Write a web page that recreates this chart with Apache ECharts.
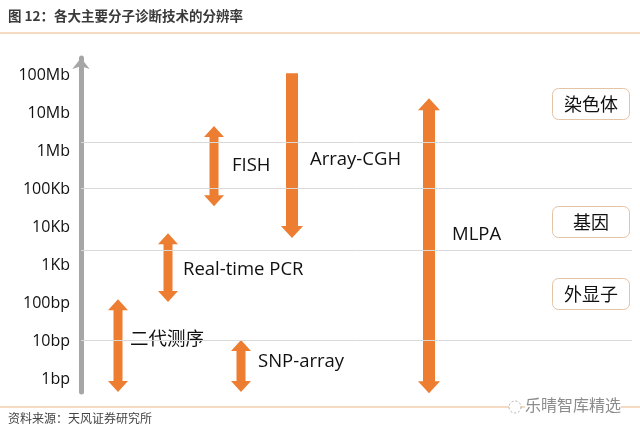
<!DOCTYPE html>
<html>
<head>
<meta charset="utf-8">
<script src="https://cdn.jsdelivr.net/npm/echarts@6/dist/echarts.min.js"></script>
<style>
  html, body { margin: 0; padding: 0; background: #fff; }
  #chart { width: 640px; height: 433px; }
</style>
</head>
<body>
<div id="chart"></div>
<script>
// 分辨率刻度（对数级，0 = 1bp）
const scaleLabels = ['1bp', '10bp', '100bp', '1Kb', '10Kb', '100Kb', '1Mb', '10Mb', '100Mb']
const scaleValues = [0, 1, 2, 3, 4, 5, 6, 7, 8]

// 各技术
const techNames = ['二代测序', 'Real-time PCR', 'FISH', 'SNP-array', 'Array-CGH', 'MLPA']
const techX     = [37, 87, 133, 160, 211, 348]
const techHigh  = [2.1, 3.84, 6.66, 1.03, 8.05, 7.39]
const techLow   = [-0.34, 2.03, 4.55, -0.34, 3.71, -0.37]
const techBoth  = [true, true, true, true, false, true]   // 双向箭头
const labelX    = [49, 102, 151, 177, 229, 371]
const labelY    = [1.03, 2.87, 5.61, 0.45, 5.76, 3.79]

// 背景分隔线
const dividerY = [1.03, 3.39, 5.03, 6.24]

// 右侧层级
const levelNames = ['染色体', '基因', '外显子']

const ORANGE = '#ed7d31'
const bigArrow = [false, false, false, false, true, true]

const chart = echarts.init(document.getElementById('chart'))

const arrowData = techNames.map((n, i) => [techX[i], techHigh[i], techLow[i], techBoth[i] ? 1 : 0, bigArrow[i] ? 1 : 0])
const labelData = techNames.map((n, i) => [labelX[i], labelY[i], n])

function renderArrow(params, api) {
    const top = api.coord([api.value(0), api.value(1)])
    const bot = api.coord([api.value(0), api.value(2)])
    const both = api.value(3) === 1
    const big = api.value(4) === 1
    const cx = top[0]
    const sw = big ? 6 : 4.5     // 半杆宽
    const hw = big ? 11 : 10     // 半箭头宽
    const hl = big ? 12 : 11     // 箭头长
    const yT = top[1], yB = bot[1]
    let pts
    if (both) {
        pts = [
            [cx, yT], [cx + hw, yT + hl], [cx + sw, yT + hl], [cx + sw, yB - hl],
            [cx + hw, yB - hl], [cx, yB], [cx - hw, yB - hl], [cx - sw, yB - hl],
            [cx - sw, yT + hl], [cx - hw, yT + hl]
        ]
    } else {
        pts = [
            [cx - sw, yT], [cx + sw, yT], [cx + sw, yB - hl], [cx + hw, yB - hl],
            [cx, yB], [cx - hw, yB - hl], [cx - sw, yB - hl]
        ]
    }
    return {
        type: 'polygon',
        shape: { points: pts },
        style: { fill: ORANGE }
    }
}

function renderLabel(params, api) {
    const p = api.coord([api.value(0), api.value(1)])
    return {
        type: 'text',
        x: p[0],
        y: p[1],
        style: {
            text: labelData[params.dataIndex][2],
            fill: '#111',
            font: '18.5px "Open Sans", "Noto Sans CJK SC", sans-serif',
            textAlign: 'left',
            textVerticalAlign: 'middle'
        }
    }
}

const boxTop = [88, 206, 278]
const graphics = [
    {
        type: 'line', shape: { x1: 0, y1: 33, x2: 640, y2: 33 },
        style: { stroke: '#f2cfae', lineWidth: 1.5 }
    },
    {
        type: 'line', shape: { x1: 0, y1: 407, x2: 640, y2: 407 },
        style: { stroke: '#f2cfae', lineWidth: 1.5 }
    },
    {
        type: 'text', left: 8, top: 9,
        style: {
            text: '图 12：各大主要分子诊断技术的分辨率',
            fill: '#3a3a3a',
            font: 'bold 13.5px "Noto Sans CJK SC", sans-serif'
        }
    },
    {
        type: 'text', left: 8, top: 412,
        style: {
            text: '资料来源：天风证券研究所',
            fill: '#444',
            font: '12px "Noto Sans CJK SC", sans-serif'
        }
    },
    {
        type: 'text', left: 525, top: 397,
        style: {
            text: '乐晴智库精选',
            fill: '#8c8c8c',
            font: '16px "Noto Sans CJK SC", sans-serif',
            backgroundColor: '#fff'
        }
    },
    {
        type: 'circle', shape: { cx: 515, cy: 407, r: 6 },
        style: { fill: '#fff', stroke: '#aaa', lineWidth: 1, lineDash: [2, 2] }
    }
]
levelNames.forEach((n, i) => {
    graphics.push({
        type: 'rect',
        shape: { x: 552.5, y: boxTop[i] + 0.5, width: 77, height: 31, r: 6 },
        style: { fill: '#fff', stroke: '#e3c4a6', lineWidth: 1 }
    })
    graphics.push({
        type: 'text', x: 591, y: boxTop[i] + 16,
        style: {
            text: n,
            fill: '#111',
            font: '18px "Noto Sans CJK SC", sans-serif',
            textAlign: 'center',
            textVerticalAlign: 'middle'
        }
    })
})

const option = {
    backgroundColor: '#ffffff',
    animation: false,
    grid: { left: 81, right: 8, top: 58, bottom: 41 },
    xAxis: {
        type: 'value',
        min: 0,
        max: 551,
        show: false
    },
    yAxis: {
        type: 'value',
        min: -0.34,
        max: 8.45,
        axisLine: {
            show: true,
            onZero: false,
            symbol: ['none', 'arrow'],
            symbolSize: [13, 11],
            lineStyle: { color: '#a6a6a6', width: 5 }
        },
        axisTick: { show: false },
        splitLine: { show: false },
        axisLabel: {
            customValues: scaleValues,
            margin: 11,
            color: '#111',
            fontSize: 16,
            fontFamily: '"Open Sans", sans-serif',
            formatter: (v) => scaleLabels[Math.round(v)]
        }
    },
    series: [
        {
            type: 'line',
            data: [],
            silent: true,
            markLine: {
                silent: true,
                symbol: 'none',
                label: { show: false },
                lineStyle: { color: '#d9d9d9', width: 1, type: 'solid' },
                data: dividerY.map(v => ({ yAxis: v }))
            }
        },
        {
            type: 'custom',
            renderItem: renderArrow,
            data: arrowData,
            clip: false,
            z: 3
        },
        {
            type: 'custom',
            renderItem: renderLabel,
            data: labelData,
            clip: false,
            z: 4
        }
    ],
    graphic: graphics
}

chart.setOption(option)
</script>
</body>
</html>
